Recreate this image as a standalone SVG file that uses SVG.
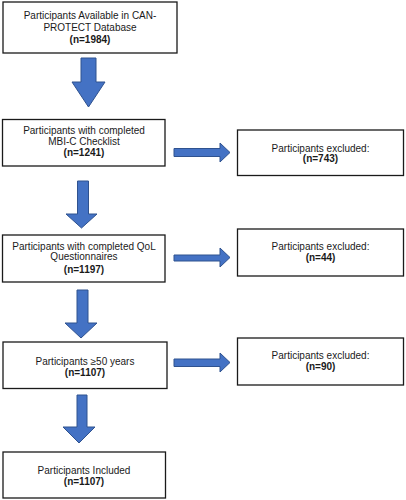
<svg xmlns="http://www.w3.org/2000/svg" width="406" height="500" viewBox="0 0 406 500">
<style>
.box{fill:#fff;stroke:#1a1a1a;stroke-width:1.3}
.arr{fill:#4472C4;stroke:#2F528F;stroke-width:1}
text{font-family:"Liberation Sans",Arial,sans-serif;font-size:10px;fill:#1a1a1a;text-anchor:middle}
.b{font-weight:bold}
</style>
<rect width="406" height="500" fill="#fff"/>
<g id="connectors">
<polygon class="arr" points="81,58 96,58 96,82 105,82 88.5,107 72,82 81,82"/>
<polygon class="arr" points="77.5,181 88.5,181 88.5,214 97,214 81.5,228 66,214 77.5,214"/>
<polygon class="arr" points="77,290 88,290 88,323 97,323 81,338 65,323 77,323"/>
<polygon class="arr" points="77,395 87,395 87,427 95,427 79,443 63,427 77,427"/>
<polygon class="arr" points="174,148.5 220,148.5 220,143 230,152.5 220,162 220,156.5 174,156.5"/>
<polygon class="arr" points="174,255 220,255 220,248 230,257.5 220,267 220,261 174,261"/>
<polygon class="arr" points="174,359 220,359 220,353 230,362.5 220,372 220,366.5 174,366.5"/>
</g>
<g id="n1">
<rect class="box" x="3" y="2" width="174" height="51"/>
<text x="90" y="19">Participants Available in CAN-</text>
<text x="90" y="31">PROTECT Database</text>
<text class="b" x="90" y="42.5">(n=1984)</text>
</g>
<g id="n2">
<rect class="box" x="2.5" y="119.5" width="162.5" height="46.5"/>
<text x="84" y="134">Participants with completed</text>
<text x="84" y="144.5">MBI-C Checklist</text>
<text class="b" x="84" y="156">(n=1241)</text>
</g>
<g id="e1">
<rect class="box" x="237.5" y="130" width="166" height="45.5"/>
<text x="320.5" y="151.5">Participants excluded:</text>
<text class="b" x="320.5" y="162">(n=743)</text>
</g>
<g id="n3">
<rect class="box" x="2.5" y="235" width="162.5" height="47"/>
<text x="84" y="249.5">Participants with completed QoL</text>
<text x="84" y="260">Questionnaires</text>
<text class="b" x="84" y="272.5">(n=1197)</text>
</g>
<g id="e2">
<rect class="box" x="237.5" y="229" width="166" height="47"/>
<text x="320.5" y="250">Participants excluded:</text>
<text class="b" x="320.5" y="261">(n=44)</text>
</g>
<g id="n4">
<rect class="box" x="3" y="342" width="164" height="46.5"/>
<text x="85" y="364.5">Participants ≥50 years</text>
<text class="b" x="85" y="375.5">(n=1107)</text>
</g>
<g id="e3">
<rect class="box" x="237.5" y="338" width="166" height="47"/>
<text x="320.5" y="359">Participants excluded:</text>
<text class="b" x="320.5" y="370">(n=90)</text>
</g>
<g id="n5">
<rect class="box" x="3" y="452" width="162.5" height="46"/>
<text x="84" y="474">Participants Included</text>
<text class="b" x="84" y="484.5">(n=1107)</text>
</g>
</svg>
